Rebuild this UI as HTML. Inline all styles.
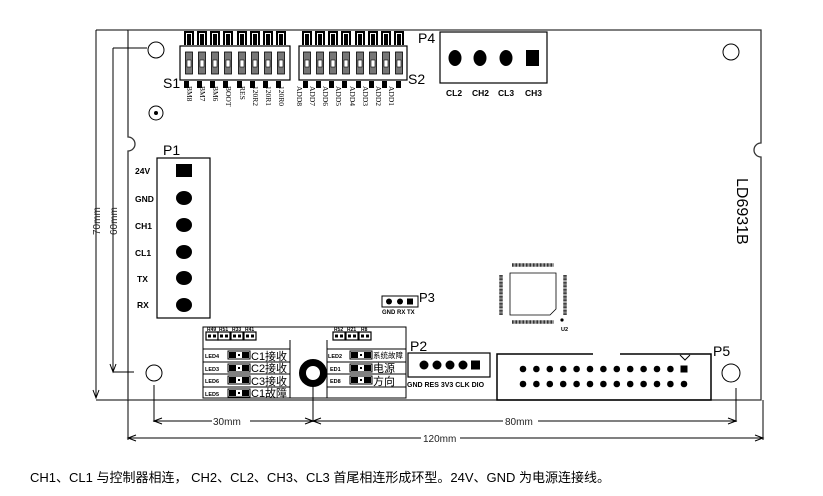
<!DOCTYPE html>
<html><head><meta charset="utf-8"><style>
html,body{margin:0;padding:0;background:#fff;}
svg{display:block;}
.t{font-family:"Liberation Sans","Noto Sans CJK SC",sans-serif;}
.s{font-family:"Liberation Serif",serif;}
.b{font-family:"Liberation Sans",sans-serif;font-weight:bold;}
</style></head><body>
<svg width="823" height="496" viewBox="0 0 823 496" xmlns="http://www.w3.org/2000/svg">
<defs>
<g id="tab"><rect x="0" y="0" width="10" height="14" fill="#000"/><rect x="2" y="2" width="6" height="12" fill="#fff"/><rect x="3" y="3" width="4" height="11" fill="#000"/></g>
<g id="sl"><rect x="0" y="0" width="7" height="22" fill="#777" stroke="#000" stroke-width="0.8"/><rect x="1.5" y="8" width="4" height="7" fill="#fff" stroke="#000" stroke-width="0.6"/></g>
<g id="res"><rect x="0" y="0" width="12" height="8" fill="#fff" stroke="#000" stroke-width="1.2"/><rect x="2" y="2.5" width="3" height="3" fill="#000"/><rect x="7" y="2.5" width="3" height="3" fill="#000"/></g>
<g id="led"><rect x="0" y="0" width="22" height="8" fill="#fff" stroke="#000" stroke-width="1"/><rect x="1" y="1" width="7" height="6" fill="#000"/><rect x="14" y="1" width="7" height="6" fill="#000"/><rect x="10" y="3" width="2" height="2" fill="#000"/></g>
</defs>
<g fill="none" stroke="#333" stroke-width="1.3">
<!-- board outline -->
<path d="M128 30 H761 V143 A7 7 0 0 0 761 157 V400 H96 M128 30 V137 A7 7 0 0 1 128 151 V400"/>
</g>
<g fill="none" stroke="#000" stroke-width="1">
<!-- dimension lines -->
<line x1="96" y1="30" x2="128" y2="30"/>
<line x1="96" y1="30" x2="96" y2="398"/>
<line x1="113" y1="48" x2="147" y2="48"/>
<line x1="113" y1="48" x2="113" y2="372"/>
<line x1="113" y1="372" x2="134" y2="372"/>
<path d="M93 390 L96 398 L99 390 M110 364 L113 372 L116 364"/>
<line x1="154" y1="385" x2="154" y2="422"/>
<line x1="313" y1="388" x2="313" y2="422"/>
<line x1="736" y1="388" x2="736" y2="422"/>
<line x1="128" y1="400" x2="128" y2="440"/>
<line x1="763" y1="400" x2="763" y2="440"/>
<line x1="154" y1="421" x2="212" y2="421"/><line x1="250" y1="421" x2="313" y2="421"/>
<line x1="313" y1="421" x2="503" y2="421"/><line x1="538" y1="421" x2="736" y2="421"/>
<line x1="128" y1="438" x2="421" y2="438"/><line x1="460" y1="438" x2="763" y2="438"/>
<path d="M162 418 L154 421 L162 424 M305 418 L313 421 L305 424 M321 418 L313 421 L321 424 M728 418 L736 421 L728 424 M136 435 L128 438 L136 441 M755 435 L763 438 L755 441"/>
<!-- holes -->
<circle cx="156" cy="50" r="8"/>
<circle cx="156" cy="113" r="7"/>
<circle cx="154" cy="373" r="8"/>
<circle cx="731" cy="52" r="8"/>
<circle cx="731" cy="373" r="9"/>
</g>
<circle cx="156" cy="113" r="2" fill="#000"/>
<text class="t" x="213" y="425" font-size="10" fill="#222">30mm</text>
<text class="t" x="505" y="425" font-size="10" fill="#222">80mm</text>
<text class="t" x="423" y="442" font-size="10" fill="#222">120mm</text>
<text class="t" font-size="10" fill="#222" transform="translate(100,235) rotate(-90)">70mm</text>
<text class="t" font-size="10" fill="#222" transform="translate(117,235) rotate(-90)">60mm</text>

<!-- S1 -->
<g>
<use href="#tab" x="184" y="31"/><use href="#tab" x="197" y="31"/><use href="#tab" x="210" y="31"/><use href="#tab" x="223" y="31"/><use href="#tab" x="237" y="31"/><use href="#tab" x="250" y="31"/><use href="#tab" x="263" y="31"/><use href="#tab" x="276" y="31"/>
<rect x="180" y="46" width="110" height="34" fill="none" stroke="#000" stroke-width="1.2"/>
<use href="#sl" x="185.5" y="52"/><use href="#sl" x="198.5" y="52"/><use href="#sl" x="211.5" y="52"/><use href="#sl" x="224.5" y="52"/><use href="#sl" x="238.5" y="52"/><use href="#sl" x="251.5" y="52"/><use href="#sl" x="264.5" y="52"/><use href="#sl" x="277.5" y="52"/>
<g fill="#000"><rect x="184" y="81" width="5" height="7"/><rect x="197" y="81" width="5" height="7"/><rect x="210" y="81" width="5" height="7"/><rect x="223" y="81" width="5" height="7"/><rect x="237" y="81" width="5" height="7"/><rect x="250" y="81" width="5" height="7"/><rect x="263" y="81" width="5" height="7"/><rect x="276" y="81" width="5" height="7"/></g>
</g>
<g class="s" font-size="7.5" fill="#000">
<text transform="translate(187,86) rotate(90)">BM8</text>
<text transform="translate(200,86) rotate(90)">BM7</text>
<text transform="translate(213,86) rotate(90)">BM6</text>
<text transform="translate(226,86) rotate(90)">BOOT</text>
<text transform="translate(240,86) rotate(90)">RES</text>
<text transform="translate(253,86) rotate(90)">120R2</text>
<text transform="translate(266,86) rotate(90)">120R1</text>
<text transform="translate(279,86) rotate(90)">120R0</text>
</g>
<text class="t" x="163" y="88" font-size="14">S1</text>
<!-- S2 -->
<g>
<use href="#tab" x="302" y="31"/><use href="#tab" x="315" y="31"/><use href="#tab" x="328" y="31"/><use href="#tab" x="341" y="31"/><use href="#tab" x="355" y="31"/><use href="#tab" x="368" y="31"/><use href="#tab" x="381" y="31"/><use href="#tab" x="394" y="31"/>
<rect x="299" y="46" width="108" height="34" fill="none" stroke="#000" stroke-width="1.2"/>
<use href="#sl" x="303.5" y="52"/><use href="#sl" x="316.5" y="52"/><use href="#sl" x="329.5" y="52"/><use href="#sl" x="342.5" y="52"/><use href="#sl" x="356.5" y="52"/><use href="#sl" x="369.5" y="52"/><use href="#sl" x="382.5" y="52"/><use href="#sl" x="395.5" y="52"/>
<g fill="#000"><rect x="303" y="81" width="5" height="7"/><rect x="316" y="81" width="5" height="7"/><rect x="329" y="81" width="5" height="7"/><rect x="342" y="81" width="5" height="7"/><rect x="356" y="81" width="5" height="7"/><rect x="369" y="81" width="5" height="7"/><rect x="382" y="81" width="5" height="7"/><rect x="396" y="81" width="5" height="7"/></g>
</g>
<g class="s" font-size="7.5" fill="#000">
<text transform="translate(297,86) rotate(90)">ADD8</text>
<text transform="translate(310,86) rotate(90)">ADD7</text>
<text transform="translate(323,86) rotate(90)">ADD6</text>
<text transform="translate(336,86) rotate(90)">ADD5</text>
<text transform="translate(350,86) rotate(90)">ADD4</text>
<text transform="translate(363,86) rotate(90)">ADD3</text>
<text transform="translate(376,86) rotate(90)">ADD2</text>
<text transform="translate(389,86) rotate(90)">ADD1</text>
</g>
<text class="t" x="408" y="84" font-size="14">S2</text>

<!-- P4 -->
<text class="t" x="418" y="43" font-size="14">P4</text>
<rect x="440" y="32" width="107" height="51" fill="none" stroke="#000" stroke-width="1.2"/>
<g fill="#000"><ellipse cx="455" cy="58" rx="6.5" ry="8"/><ellipse cx="480" cy="58" rx="6.5" ry="8"/><ellipse cx="506" cy="58" rx="6.5" ry="8"/><rect x="526" y="50" width="13" height="16"/></g>
<g class="b" font-size="8.5"><text x="446" y="96">CL2</text><text x="472" y="96">CH2</text><text x="498" y="96">CL3</text><text x="525" y="96">CH3</text></g>

<!-- P1 -->
<text class="t" x="163" y="155" font-size="14">P1</text>
<rect x="157" y="158" width="53" height="160" fill="none" stroke="#000" stroke-width="1.2"/>
<g fill="#000"><rect x="176" y="164" width="16" height="13"/>
<ellipse cx="184" cy="198" rx="8" ry="7"/><ellipse cx="184" cy="225" rx="8" ry="7"/><ellipse cx="184" cy="252" rx="8" ry="7"/><ellipse cx="184" cy="278" rx="8" ry="7"/><ellipse cx="184" cy="305" rx="8" ry="7"/></g>
<g class="b" font-size="8.5"><text x="135" y="174">24V</text><text x="135" y="202">GND</text><text x="135" y="229">CH1</text><text x="135" y="256">CL1</text><text x="137" y="282">TX</text><text x="137" y="308">RX</text></g>

<!-- P3 -->
<rect x="382" y="296" width="36" height="11" fill="none" stroke="#000" stroke-width="1"/>
<g fill="#000"><circle cx="389" cy="301.5" r="3"/><circle cx="400" cy="301.5" r="3"/><rect x="407" y="298.5" width="6" height="6"/></g>
<text class="t" x="419" y="302" font-size="13">P3</text>
<text class="b" x="382" y="314" font-size="6">GND RX TX</text>

<!-- QFP U2 -->
<path d="M510 273 H556 V309 L550 315 H510 Z" fill="none" stroke="#000" stroke-width="0.8"/>
<g stroke="#000" stroke-width="3.5" stroke-dasharray="0.8 0.6">
<line x1="512" y1="265" x2="554" y2="265"/><line x1="512" y1="322" x2="554" y2="322"/>
</g>
<g stroke="#000" stroke-width="3.5" stroke-dasharray="0.8 0.6">
<line x1="501" y1="275" x2="501" y2="315"/><line x1="565" y1="275" x2="565" y2="315"/>
</g>
<circle cx="562" cy="320" r="1.6" fill="#000"/>
<text class="b" x="561" y="331" font-size="5.5">U2</text>

<!-- LD6931B -->
<text class="t" font-size="16" transform="translate(737,178) rotate(90)">LD6931B</text>

<!-- LED panel -->
<g fill="none" stroke="#000" stroke-width="1">
<rect x="203" y="327" width="203" height="71"/>
<line x1="203" y1="349" x2="290" y2="349"/><line x1="203" y1="362" x2="290" y2="362"/><line x1="203" y1="374" x2="290" y2="374"/><line x1="203" y1="387" x2="290" y2="387"/>
<line x1="327" y1="349" x2="406" y2="349"/><line x1="327" y1="362" x2="406" y2="362"/><line x1="327" y1="374" x2="406" y2="374"/><line x1="327" y1="387" x2="406" y2="387"/>
<line x1="290" y1="340" x2="290" y2="398"/><line x1="327" y1="340" x2="327" y2="398"/>
<line x1="313" y1="386" x2="313" y2="410"/>
</g>
<use href="#res" x="206" y="332"/><use href="#res" x="218" y="332"/><use href="#res" x="231" y="332"/><use href="#res" x="244" y="332"/>
<use href="#res" x="333" y="332"/><use href="#res" x="346" y="332"/><use href="#res" x="359" y="332"/>
<g class="b" font-size="5"><text x="207" y="331">R49</text><text x="219" y="331">R51</text><text x="232" y="331">R33</text><text x="245" y="331">R41</text><text x="334" y="331">R52</text><text x="347" y="331">R21</text><text x="361" y="331">R8</text></g>
<g class="b" font-size="5.5"><text x="205" y="358">LED4</text><text x="205" y="371">LED3</text><text x="205" y="383">LED6</text><text x="205" y="396">LED5</text>
<text x="328" y="358">LED2</text><text x="330" y="371">ED1</text><text x="330" y="383">ED8</text></g>
<use href="#led" x="228" y="351"/><use href="#led" x="228" y="364"/><use href="#led" x="228" y="376"/><use href="#led" x="228" y="389"/>
<use href="#led" x="350" y="351"/><use href="#led" x="350" y="364"/><use href="#led" x="350" y="376"/>
<g class="t" font-size="11"><text x="251" y="360">C1接收</text><text x="251" y="372">C2接收</text><text x="251" y="385">C3接收</text><text x="251" y="397">C1故障</text>
<text x="373" y="372">电源</text><text x="373" y="385">方向</text></g>
<text class="t" x="373" y="358" font-size="7.5">系统故障</text>
<circle cx="313" cy="373" r="10.5" fill="none" stroke="#000" stroke-width="7"/>

<!-- P2 -->
<text class="t" x="410" y="351" font-size="14">P2</text>
<rect x="408" y="353" width="82" height="24" fill="none" stroke="#000" stroke-width="1.2"/>
<g fill="#000"><circle cx="424" cy="365" r="4.5"/><circle cx="437" cy="365" r="4.5"/><circle cx="450" cy="365" r="4.5"/><circle cx="463" cy="365" r="4.5"/><rect x="471" y="360.5" width="9" height="9"/></g>
<text class="b" x="407" y="387" font-size="7">GND RES 3V3 CLK DIO</text>

<!-- P5 -->
<path d="M593 354 H497 V400 H711 V354 H620" fill="none" stroke="#000" stroke-width="1.5"/>
<path d="M680 355 L685 360 L690 355" fill="none" stroke="#000" stroke-width="1"/>
<text class="t" x="713" y="356" font-size="14">P5</text>
<g fill="#000">
<circle cx="523" cy="369" r="3.3"/><circle cx="536.4" cy="369" r="3.3"/><circle cx="549.8" cy="369" r="3.3"/><circle cx="563.2" cy="369" r="3.3"/><circle cx="576.6" cy="369" r="3.3"/><circle cx="590" cy="369" r="3.3"/><circle cx="603.4" cy="369" r="3.3"/><circle cx="616.8" cy="369" r="3.3"/><circle cx="630.2" cy="369" r="3.3"/><circle cx="643.6" cy="369" r="3.3"/><circle cx="657" cy="369" r="3.3"/><circle cx="670.4" cy="369" r="3.3"/><rect x="680.5" y="365.5" width="7" height="7"/>
<circle cx="523" cy="384" r="3.3"/><circle cx="536.4" cy="384" r="3.3"/><circle cx="549.8" cy="384" r="3.3"/><circle cx="563.2" cy="384" r="3.3"/><circle cx="576.6" cy="384" r="3.3"/><circle cx="590" cy="384" r="3.3"/><circle cx="603.4" cy="384" r="3.3"/><circle cx="616.8" cy="384" r="3.3"/><circle cx="630.2" cy="384" r="3.3"/><circle cx="643.6" cy="384" r="3.3"/><circle cx="657" cy="384" r="3.3"/><circle cx="670.4" cy="384" r="3.3"/><circle cx="684" cy="384" r="3.3"/>
</g>

<text class="t" x="30" y="482" font-size="13" fill="#000">CH1、CL1 与控制器相连， CH2、CL2、CH3、CL3 首尾相连形成环型。24V、GND 为电源连接线。</text>
</svg>
</body></html>
